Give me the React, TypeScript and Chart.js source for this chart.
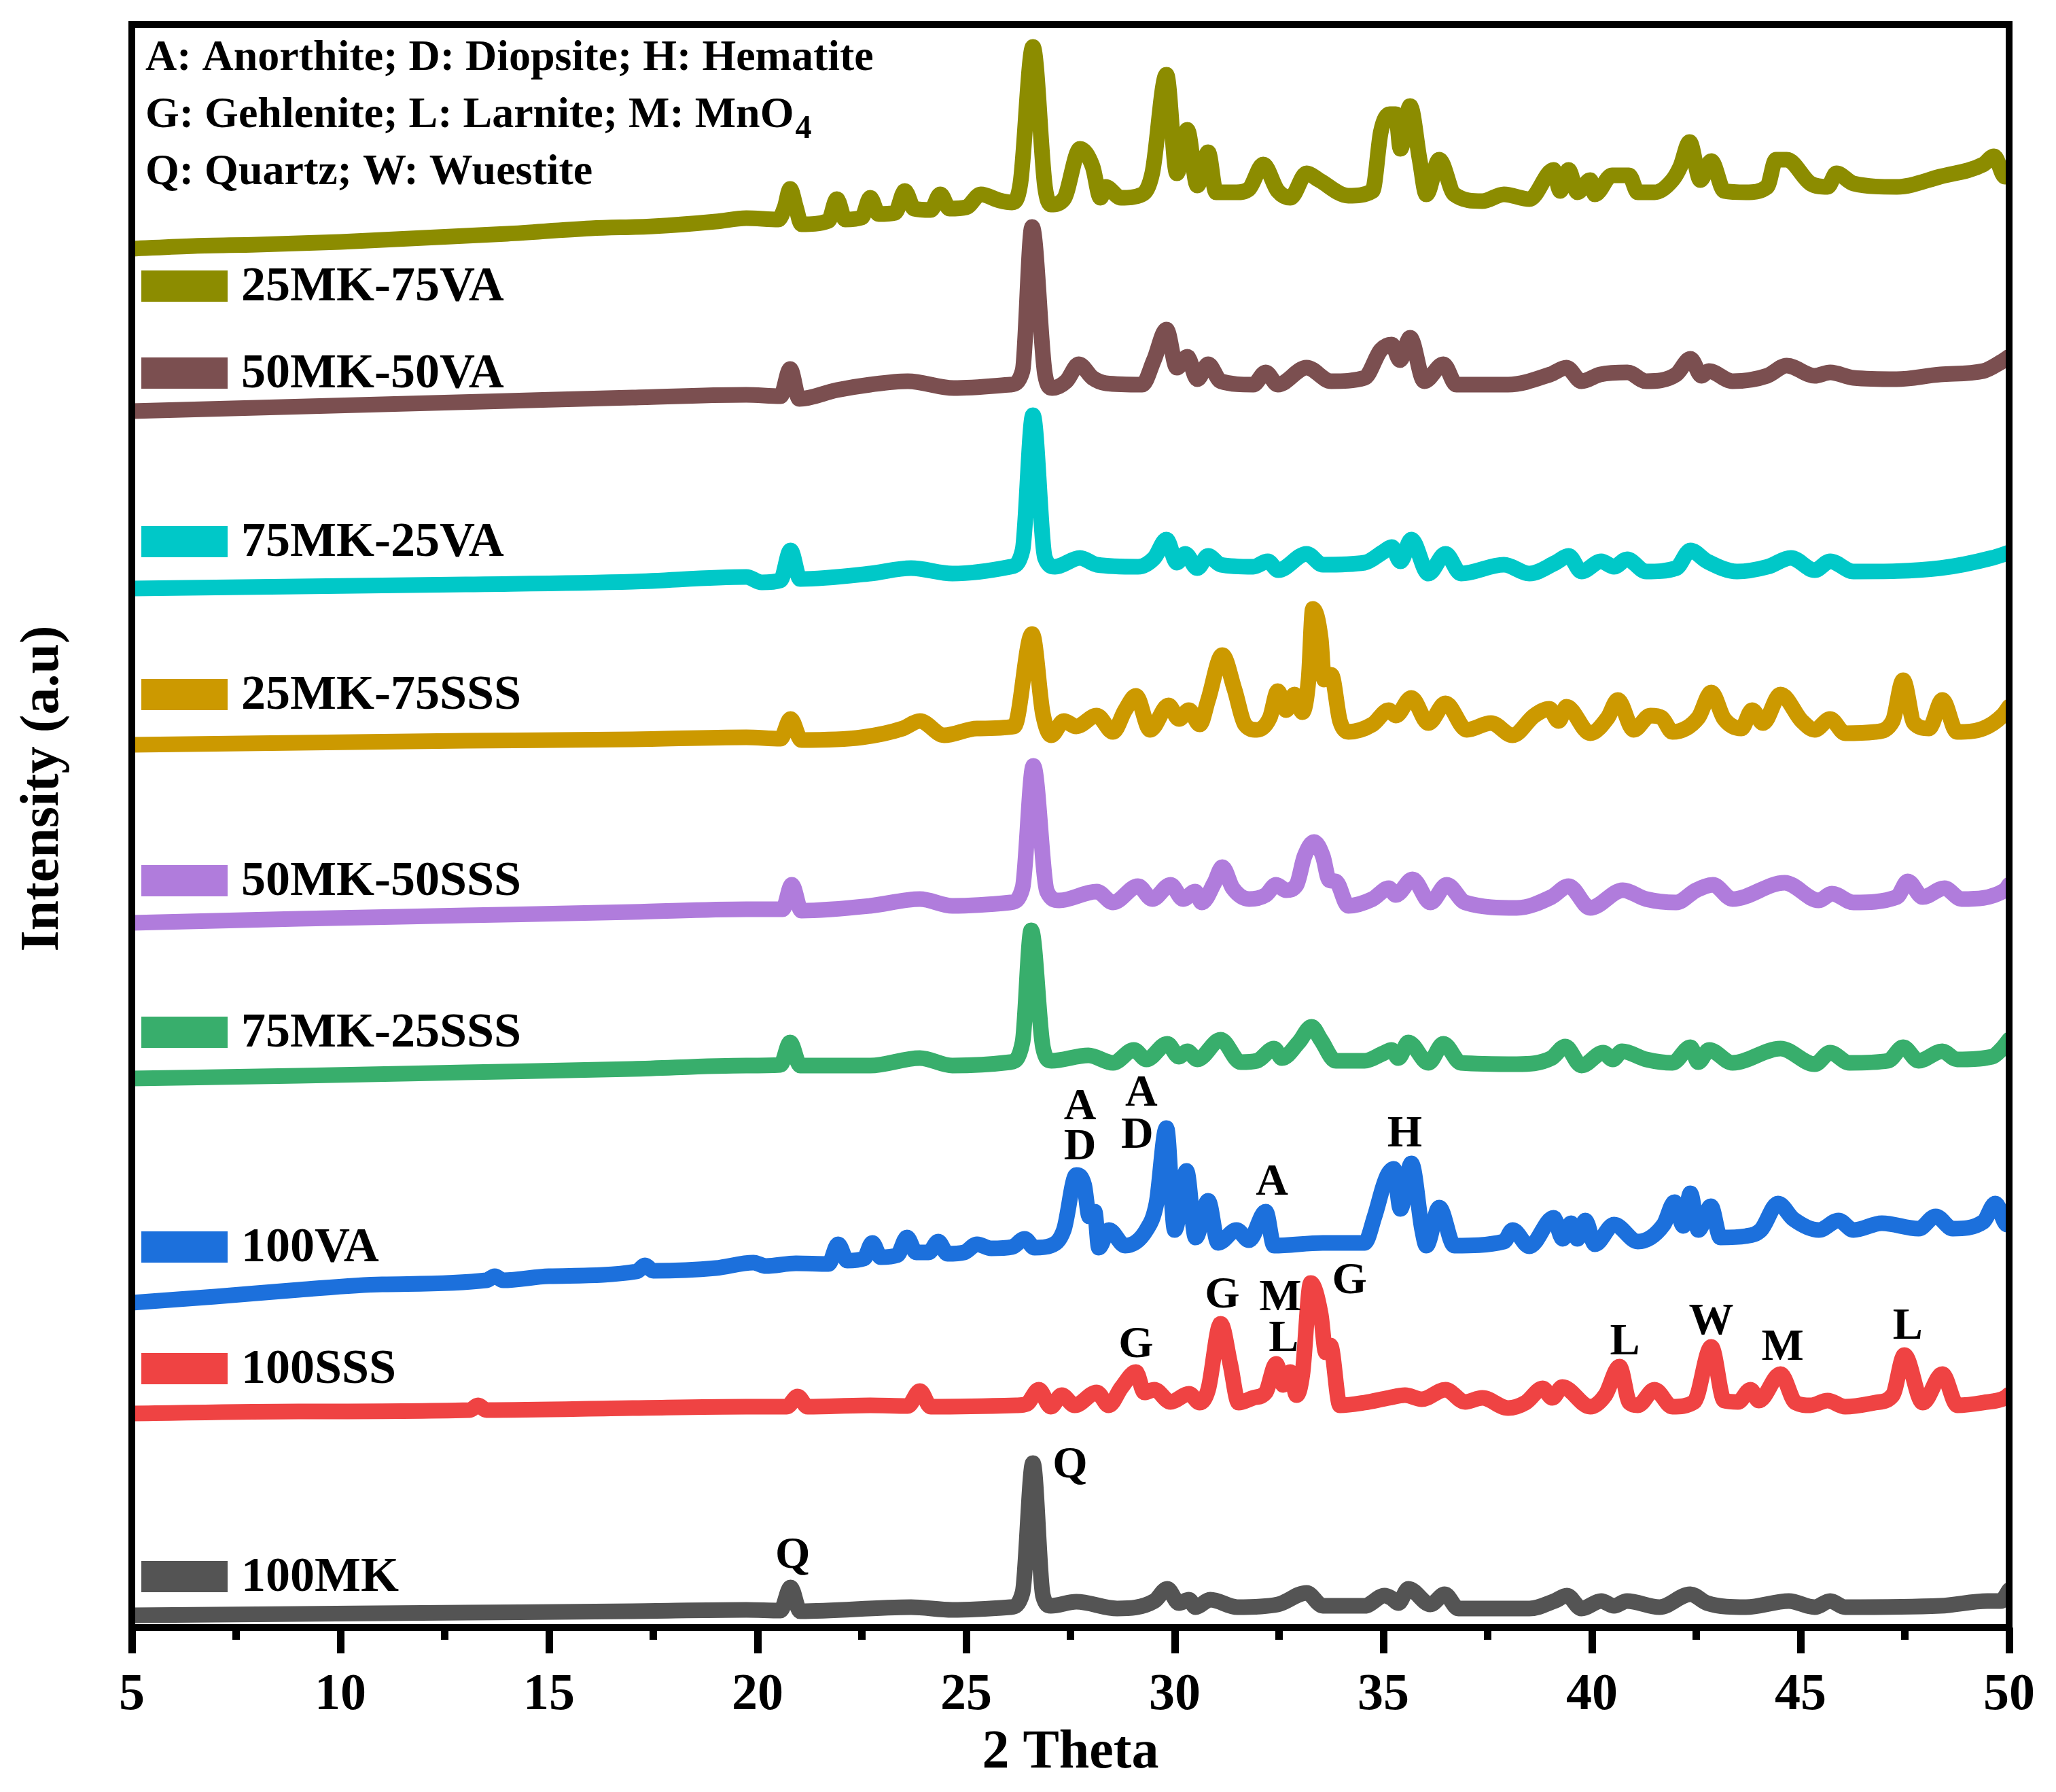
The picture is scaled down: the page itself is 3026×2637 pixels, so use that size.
import React, { useEffect, useRef } from "react";
import { Chart, registerables } from "chart.js";

Chart.register(...registerables);

// ---------------- data (2θ, stacked intensity in a.u.) ----------------
const X_MIN = 5;
const X_MAX = 50;
const Y_MIN = 0;
const Y_MAX = 2359;
const X_MAJOR_STEP = 5;
const X_MINOR_TICKS = [7.5, 12.5, 17.5, 22.5, 27.5, 32.5, 37.5, 42.5, 47.5];

const SERIES_NAMES = [
  "25MK-75VA",
  "50MK-50VA",
  "75MK-25VA",
  "25MK-75SSS",
  "50MK-50SSS",
  "75MK-25SSS",
  "100VA",
  "100SSS",
  "100MK",
];

const SERIES_COLORS = [
  "#8c8c00",
  "#7b4f50",
  "#00c8c8",
  "#cc9900",
  "#b07cdc",
  "#38ae6c",
  "#1c70dc",
  "#ef4343",
  "#545454",
];

const mk25va75: number[][] = [
  [5, 2029], [6.5, 2033], [8, 2035], [10, 2039], [12, 2045], [14, 2051], [16, 2059], [17.5, 2062], [19, 2069],
  [19.73, 2074], [20.5, 2072], [20.65, 2090], [20.78, 2117], [20.92, 2090], [21.05, 2065], [21.7, 2070],
  [21.9, 2102], [22.1, 2072], [22.5, 2075], [22.7, 2104], [22.9, 2080], [23.3, 2082], [23.53, 2114],
  [23.75, 2088], [24.15, 2086], [24.38, 2109], [24.6, 2088], [25.0, 2090], [25.35, 2109], [25.8, 2100],
  [26.1, 2097], [26.3, 2125], [26.6, 2326], [26.89, 2120], [27.03, 2094], [27.34, 2102], [27.73, 2176],
  [28.03, 2150], [28.22, 2104], [28.34, 2120], [28.71, 2104], [29.22, 2109], [29.46, 2140], [29.8, 2285],
  [30.05, 2140], [30.3, 2204], [30.54, 2122], [30.8, 2171], [30.99, 2112], [31.48, 2112], [31.78, 2117],
  [32.12, 2153], [32.47, 2114], [32.77, 2104], [33.16, 2140], [33.46, 2130], [34.16, 2107], [34.74, 2114],
  [34.94, 2201], [35.15, 2227], [35.3, 2227], [35.41, 2176], [35.64, 2239], [35.87, 2160], [36.03, 2109],
  [36.34, 2160], [36.7, 2109], [37.37, 2099], [37.89, 2109], [38.5, 2102], [39.08, 2145], [39.24, 2114],
  [39.44, 2145], [39.65, 2112], [39.96, 2130], [40.07, 2109], [40.48, 2137], [40.89, 2137], [41.1, 2112],
  [41.5, 2112], [41.93, 2130], [42.12, 2150], [42.34, 2186], [42.6, 2130], [42.86, 2158], [43.17, 2114],
  [43.69, 2112], [44.2, 2120], [44.41, 2160], [44.67, 2160], [45.24, 2125], [45.65, 2120], [45.86, 2140],
  [46.27, 2125], [47.31, 2120], [48.34, 2135], [49.38, 2153], [49.64, 2165], [49.9, 2135], [50, 2145],
];

const mk50va50: number[][] = [
  [5, 1790], [8, 1795], [11, 1800], [14, 1805], [17, 1810], [19.73, 1814], [20.55, 1812], [20.78, 1852],
  [21.0, 1808], [21.9, 1821], [22.7, 1829], [23.6, 1834], [24.7, 1824], [26.06, 1829], [26.35, 1849],
  [26.58, 2061], [26.89, 1844], [27.06, 1824], [27.4, 1834], [27.7, 1859], [28.03, 1839], [28.35, 1831],
  [29.22, 1829], [29.5, 1865], [29.8, 1910], [30.05, 1854], [30.3, 1870], [30.54, 1837], [30.8, 1859],
  [31.1, 1834], [31.88, 1829], [32.18, 1847], [32.47, 1829], [33.16, 1854], [33.75, 1834], [34.55, 1839],
  [34.94, 1880], [35.2, 1888], [35.4, 1865], [35.64, 1898], [35.98, 1834], [36.44, 1859], [36.75, 1829],
  [37.99, 1829], [39.0, 1844], [39.39, 1854], [39.75, 1834], [40.2, 1844], [40.85, 1847], [41.3, 1834],
  [42.02, 1844], [42.36, 1867], [42.63, 1842], [42.8, 1849], [43.37, 1834], [44.2, 1842], [44.67, 1857],
  [45.34, 1842], [45.71, 1847], [46.27, 1839], [47.3, 1837], [48.35, 1844], [49.38, 1849], [49.8, 1862],
  [50, 1870],
];

const mk75va25: number[][] = [
  [5, 1529], [9, 1532], [13, 1535], [17, 1539], [19.73, 1546], [20.1, 1538], [20.55, 1541], [20.79, 1585],
  [21.02, 1543], [22.7, 1551], [23.68, 1559], [24.67, 1551], [26.06, 1561], [26.35, 1585], [26.6, 1784],
  [26.89, 1574], [27.13, 1561], [27.73, 1574], [28.13, 1564], [29.12, 1561], [29.51, 1574], [29.8, 1601],
  [30.05, 1567], [30.25, 1580], [30.54, 1559], [30.8, 1577], [31.1, 1564], [31.88, 1561], [32.23, 1569],
  [32.48, 1556], [33.16, 1580], [33.55, 1564], [34.55, 1567], [35.0, 1583], [35.2, 1590], [35.41, 1569],
  [35.67, 1601], [36.08, 1551], [36.49, 1580], [36.86, 1551], [37.89, 1564], [38.5, 1551], [39.13, 1567],
  [39.44, 1577], [39.75, 1554], [40.22, 1569], [40.53, 1561], [40.84, 1572], [41.3, 1554], [42.02, 1559],
  [42.36, 1585], [42.76, 1569], [43.48, 1554], [44.21, 1561], [44.77, 1574], [45.34, 1556], [45.71, 1569],
  [46.27, 1554], [48.35, 1559], [49.59, 1574], [50, 1582],
];

const mk25sss75: number[][] = [
  [5, 1299], [9, 1302], [13, 1305], [17, 1307], [19.73, 1310], [20.55, 1308], [20.79, 1337], [21.05, 1306],
  [22.5, 1310], [23.48, 1323], [23.89, 1334], [24.47, 1313], [25.26, 1323], [26.15, 1326], [26.58, 1462],
  [26.84, 1344], [27.04, 1313], [27.34, 1334], [27.64, 1326], [28.13, 1342], [28.52, 1318], [28.81, 1350],
  [29.07, 1371], [29.41, 1321], [29.85, 1357], [30.1, 1337], [30.34, 1350], [30.6, 1329], [30.8, 1365],
  [31.14, 1431], [31.43, 1381], [31.68, 1329], [31.97, 1321], [32.28, 1339], [32.47, 1378], [32.67, 1350],
  [32.87, 1373], [33.06, 1347], [33.21, 1397], [33.31, 1499], [33.5, 1455], [33.58, 1395], [33.75, 1402],
  [33.96, 1334], [34.16, 1318], [34.74, 1329], [35.13, 1350], [35.3, 1342], [35.67, 1368], [36.08, 1331],
  [36.49, 1360], [37.0, 1321], [37.58, 1331], [38.1, 1313], [38.62, 1342], [38.98, 1352], [39.2, 1334],
  [39.39, 1355], [39.96, 1316], [40.38, 1339], [40.62, 1365], [41.0, 1321], [41.4, 1342], [41.67, 1339],
  [41.93, 1318], [42.55, 1339], [42.86, 1376], [43.17, 1337], [43.58, 1323], [43.84, 1350], [44.1, 1331],
  [44.52, 1373], [45.03, 1334], [45.34, 1321], [45.71, 1337], [46.07, 1316], [46.79, 1318], [47.21, 1334],
  [47.46, 1394], [47.72, 1331], [48.08, 1323], [48.4, 1365], [48.75, 1318], [49.38, 1323], [49.84, 1342],
  [50, 1355],
];

const mk50sss50: number[][] = [
  [5, 1037], [9, 1043], [13, 1048], [17, 1053], [19.73, 1057], [20.6, 1057], [20.82, 1093], [21.05, 1055],
  [22.7, 1062], [23.89, 1072], [24.67, 1062], [26.06, 1067], [26.35, 1088], [26.61, 1268], [26.94, 1083],
  [27.23, 1070], [28.13, 1083], [28.52, 1067], [29.12, 1091], [29.46, 1072], [29.9, 1093], [30.2, 1072],
  [30.49, 1083], [30.65, 1067], [30.95, 1096], [31.14, 1119], [31.39, 1088], [31.78, 1072], [32.18, 1078],
  [32.43, 1093], [32.67, 1085], [32.92, 1093], [33.11, 1135], [33.34, 1156], [33.55, 1135], [33.7, 1100],
  [33.86, 1098], [34.16, 1062], [34.74, 1072], [35.13, 1088], [35.3, 1078], [35.7, 1101], [36.13, 1067],
  [36.52, 1093], [36.96, 1067], [38.2, 1059], [39.03, 1075], [39.44, 1091], [39.96, 1059], [40.74, 1085],
  [41.3, 1072], [42.02, 1067], [42.5, 1085], [42.9, 1093], [43.37, 1072], [44.62, 1096], [45.44, 1070],
  [45.75, 1080], [46.27, 1067], [47.31, 1075], [47.57, 1098], [47.93, 1075], [48.45, 1088], [48.86, 1072],
  [49.9, 1085], [50, 1093],
];

const mk75sss25: number[][] = [
  [5, 808], [9, 812], [13, 817], [17, 822], [19.73, 827], [20.55, 828], [20.78, 861], [21.02, 827],
  [22.7, 827], [23.89, 838], [24.67, 827], [26.06, 832], [26.35, 861], [26.56, 1026], [26.84, 854],
  [27.04, 834], [27.93, 842], [28.52, 831], [29.02, 850], [29.32, 836], [29.82, 859], [30.1, 840],
  [30.3, 848], [30.54, 836], [31.1, 865], [31.58, 832], [31.97, 834], [32.38, 852], [32.57, 838],
  [32.97, 861], [33.28, 884], [33.5, 865], [33.86, 834], [34.55, 834], [35.0, 845], [35.2, 850],
  [35.36, 838], [35.6, 861], [36.08, 831], [36.44, 859], [36.86, 831], [38.2, 829], [39.03, 838],
  [39.36, 855], [39.75, 827], [40.27, 846], [40.5, 836], [40.72, 848], [41.3, 836], [41.93, 831],
  [42.36, 854], [42.55, 832], [42.81, 850], [43.37, 831], [44.52, 852], [45.34, 829], [45.71, 846],
  [46.17, 831], [47.1, 834], [47.46, 854], [47.83, 834], [48.4, 848], [48.75, 836], [49.59, 840],
  [49.8, 850], [50, 865],
];

const va100: number[][] = [
  [5, 478], [7, 487], [9, 497], [11, 505], [13.5, 511], [13.7, 517], [13.9, 511], [15, 517], [17.1, 524],
  [17.3, 533], [17.5, 525], [19.0, 529], [19.9, 537], [20.2, 532], [20.92, 536], [21.7, 535], [21.93, 564],
  [22.15, 540], [22.55, 543], [22.75, 566], [22.95, 545], [23.35, 548], [23.58, 574], [23.8, 552],
  [24.1, 552], [24.33, 568], [24.55, 550], [24.95, 552], [25.26, 564], [25.6, 558], [26.1, 560],
  [26.4, 572], [26.64, 559], [27.03, 562], [27.34, 585], [27.64, 666], [27.83, 651], [27.95, 605],
  [28.08, 612], [28.18, 559], [28.42, 585], [28.81, 562], [29.32, 585], [29.56, 624], [29.8, 735],
  [30.0, 585], [30.28, 672], [30.5, 574], [30.8, 628], [31.04, 566], [31.48, 585], [31.78, 570],
  [32.18, 612], [32.38, 562], [33.55, 566], [34.55, 566], [34.79, 605], [35.0, 650], [35.1, 666],
  [35.25, 675], [35.41, 616], [35.67, 683], [35.93, 585], [36.03, 562], [36.34, 618], [36.7, 562],
  [37.89, 568], [38.1, 585], [38.5, 561], [39.08, 603], [39.3, 572], [39.5, 595], [39.65, 572],
  [39.84, 599], [40.07, 564], [40.53, 593], [41.1, 568], [41.72, 593], [41.98, 626], [42.19, 591],
  [42.36, 639], [42.55, 585], [42.85, 620], [43.08, 574], [43.69, 576], [44.05, 585], [44.46, 624],
  [44.83, 601], [45.44, 585], [45.91, 599], [46.27, 585], [46.95, 595], [47.83, 587], [48.24, 605],
  [48.65, 587], [49.38, 597], [49.67, 624], [49.95, 593], [50, 595],
];

const sss100: number[][] = [
  [5, 315], [9, 318], [13.1, 320], [13.3, 327], [13.5, 320], [17, 323], [19.73, 325], [20.7, 325],
  [20.96, 340], [21.2, 325], [22.7, 327], [23.6, 326], [23.89, 348], [24.15, 325], [26.2, 327],
  [26.45, 329], [26.74, 350], [27.03, 325], [27.29, 342], [27.6, 327], [28.13, 346], [28.42, 327],
  [28.72, 353], [29.07, 376], [29.27, 346], [29.51, 350], [29.9, 332], [30.34, 344], [30.6, 331],
  [30.8, 350], [31.1, 447], [31.33, 388], [31.53, 331], [31.88, 338], [32.18, 346], [32.43, 388],
  [32.6, 357], [32.77, 376], [32.92, 342], [33.06, 373], [33.26, 507], [33.5, 461], [33.62, 405],
  [33.73, 415], [33.96, 327], [34.55, 331], [35.13, 338], [35.52, 342], [35.92, 336], [36.49, 350],
  [36.96, 332], [37.37, 338], [37.99, 323], [38.41, 331], [38.82, 352], [39.05, 338], [39.29, 354],
  [39.96, 325], [40.32, 342], [40.66, 384], [40.9, 331], [41.1, 327], [41.5, 350], [41.93, 325],
  [42.45, 332], [42.86, 413], [43.17, 334], [43.5, 332], [43.8, 350], [44.0, 334], [44.52, 373],
  [44.88, 331], [45.24, 327], [45.65, 334], [46.07, 325], [46.79, 331], [47.21, 342], [47.49, 401],
  [47.93, 331], [48.4, 373], [48.76, 327], [49.38, 331], [49.9, 338], [50, 343],
];

const mk100: number[][] = [
  [5, 18], [9, 20], [13, 22], [17, 24], [19.73, 26], [20.55, 25], [20.79, 59], [21.02, 24], [23.68, 30],
  [24.67, 26], [26.06, 30], [26.35, 51], [26.6, 242], [26.84, 47], [27.03, 32], [27.64, 38], [28.62, 28],
  [29.51, 39], [29.82, 57], [30.1, 36], [30.34, 41], [30.5, 30], [30.85, 41], [31.5, 30], [32.47, 34],
  [33.16, 51], [33.55, 32], [34.55, 32], [35.03, 47], [35.2, 43], [35.36, 36], [35.6, 57], [36.13, 34],
  [36.47, 49], [36.8, 28], [38.5, 28], [39.1, 39], [39.4, 47], [39.75, 28], [40.22, 39], [40.53, 32],
  [40.84, 39], [41.62, 30], [42.36, 49], [42.76, 36], [43.69, 30], [44.72, 39], [45.34, 30], [45.71, 39],
  [46.07, 30], [48.35, 32], [49.48, 39], [49.8, 39], [50, 55],
];

const SERIES_DATA = [mk25va75, mk50va50, mk75va25, mk25sss75, mk50sss50, mk75sss25, va100, sss100, mk100];

// legend rows (y in data units)
const LEGEND_Y = [1974, 1846, 1598, 1373, 1099, 876, 560, 381, 75];

// phase labels: [text, 2θ, intensity]
const PHASE_LABELS: [string, number, number][] = [
  ["A", 27.73, 765], ["D", 27.73, 706],
  ["A", 29.2, 785], ["D", 29.1, 723],
  ["A", 32.33, 654], ["H", 35.51, 725],
  ["G", 29.07, 415], ["G", 31.14, 488], ["M", 32.53, 484], ["L", 32.61, 424], ["G", 34.19, 509],
  ["L", 40.79, 419], ["W", 42.86, 449], ["M", 44.57, 411], ["L", 47.57, 442],
  ["Q", 27.49, 238], ["Q", 20.84, 105],
];

const INFO_LINES = [
  "A: Anorthite; D: Diopsite; H: Hematite",
  "G: Gehlenite; L: Larnite; M: MnO",
  "Q: Quartz; W: Wuestite",
];

const X_TITLE = "2 Theta";
const Y_TITLE = "Intensity (a.u)";

const FONT = "'Liberation Serif', 'Times New Roman', serif";

const overlayPlugin = {
  id: "overlay",
  afterDatasetsDraw(chart: any) {
    const { ctx, chartArea: ca, scales } = chart;
    const xs = scales.x;
    const ys = scales.y;
    ctx.save();

    // minor ticks
    ctx.strokeStyle = "#000";
    ctx.lineWidth = 11;
    ctx.lineCap = "butt";
    for (const v of X_MINOR_TICKS) {
      const px = xs.getPixelForValue(v);
      ctx.beginPath();
      ctx.moveTo(px, ca.bottom);
      ctx.lineTo(px, ca.bottom + 18);
      ctx.stroke();
    }

    // frame
    ctx.lineWidth = 10;
    ctx.strokeRect(ca.left, ca.top, ca.right - ca.left, ca.bottom - ca.top);

    // legend rows
    ctx.textBaseline = "middle";
    ctx.textAlign = "left";
    ctx.font = `bold 72px ${FONT}`;
    SERIES_NAMES.forEach((name, i) => {
      const py = ys.getPixelForValue(LEGEND_Y[i]);
      ctx.fillStyle = SERIES_COLORS[i];
      ctx.fillRect(ca.left + 14, py - 23, 127, 46);
      ctx.fillStyle = "#000";
      ctx.fillText(name, ca.left + 161, py + 2);
    });

    // phase labels
    ctx.textAlign = "center";
    ctx.font = `bold 66px ${FONT}`;
    for (const [t, vx, vy] of PHASE_LABELS) {
      ctx.fillText(t, xs.getPixelForValue(vx), ys.getPixelForValue(vy));
    }

    // info text
    ctx.textAlign = "left";
    ctx.textBaseline = "alphabetic";
    ctx.font = `bold 64px ${FONT}`;
    const ix = ca.left + 20;
    INFO_LINES.forEach((line, i) => {
      const by = ca.top + 67 + i * 84;
      ctx.fillText(line, ix, by);
      if (i === 1) {
        const w = ctx.measureText(line).width;
        ctx.font = `bold 48px ${FONT}`;
        ctx.fillText("4", ix + w + 2, by + 16);
        ctx.font = `bold 64px ${FONT}`;
      }
    });

    // y title
    ctx.save();
    ctx.translate(64, (ca.top + ca.bottom) / 2 - 55);
    ctx.rotate(-Math.PI / 2);
    ctx.textAlign = "center";
    ctx.textBaseline = "middle";
    ctx.font = `bold 80px ${FONT}`;
    ctx.fillText(Y_TITLE, 0, 0);
    ctx.restore();

    ctx.restore();
  },
};

export default function App() {
  const ref = useRef<HTMLCanvasElement>(null);
  useEffect(() => {
    if (!ref.current) return;
    const datasets = SERIES_DATA.map((arr, i) => ({
      label: SERIES_NAMES[i],
      data: arr.map(([x, y]) => ({ x, y })),
      borderColor: SERIES_COLORS[i],
      backgroundColor: SERIES_COLORS[i],
      borderWidth: 23,
      pointRadius: 0,
      borderJoinStyle: "round" as const,
      borderCapStyle: "round" as const,
      cubicInterpolationMode: "monotone" as const,
      fill: false,
    }));
    const chart = new Chart(ref.current, {
      type: "line",
      data: { datasets },
      options: {
        animation: false,
        responsive: false,
        devicePixelRatio: 1,
        events: [],
        layout: { padding: { left: 194, right: 69, top: 36, bottom: 0 } },
        plugins: { legend: { display: false }, tooltip: { enabled: false } },
        scales: {
          x: {
            type: "linear",
            min: X_MIN,
            max: X_MAX,
            afterFit: (s: any) => {
              s.height = 242;
            },
            ticks: {
              stepSize: X_MAJOR_STEP,
              autoSkip: false,
              maxRotation: 0,
              color: "#000",
              padding: 17,
              font: { family: FONT, size: 76, weight: "bold", lineHeight: 1.2 },
            },
            grid: {
              display: true,
              drawOnChartArea: false,
              drawTicks: true,
              tickLength: 38,
              tickWidth: 11,
              tickColor: "#000",
            },
            border: { display: false },
            title: {
              display: true,
              text: X_TITLE,
              color: "#000",
              padding: { top: 0, bottom: 9 },
              font: { family: FONT, size: 80, weight: "bold", lineHeight: 1.2 },
            },
          },
          y: { display: false, min: Y_MIN, max: Y_MAX },
        },
      },
      plugins: [overlayPlugin],
    });
    return () => chart.destroy();
  }, []);
  return (
    <div style={{ position: "fixed", left: 0, top: 0, width: 3026, height: 2637, background: "#fff" }}>
      <canvas ref={ref} width={3026} height={2637} style={{ display: "block", width: 3026, height: 2637 }} />
    </div>
  );
}
